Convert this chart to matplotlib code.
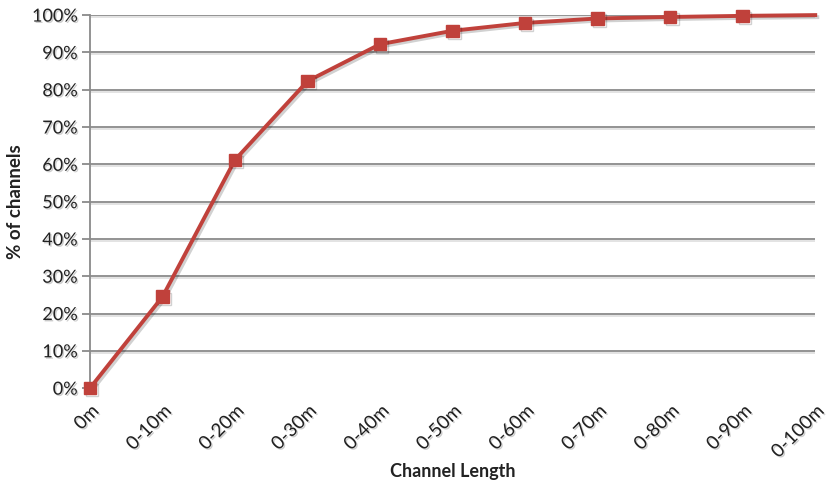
import numpy as np
import matplotlib.pyplot as plt
import matplotlib.patheffects as pe

categories = ["0m", "0-10m", "0-20m", "0-30m", "0-40m", "0-50m",
              "0-60m", "0-70m", "0-80m", "0-90m", "0-100m"]
pct_channels = [0.0, 24.5, 61.2, 82.3, 92.2, 95.8, 97.9, 99.1, 99.5, 99.8, 100.0]
y_ticks = list(range(0, 101, 10))

plt.rcParams['font.family'] = ['Lato', 'DejaVu Sans']

fig = plt.figure(figsize=(8.37, 4.87), dpi=100)
ax = fig.add_axes([0.1075, 0.203, 0.8665, 0.766])

text_shadow = [pe.withSimplePatchShadow(offset=(1, -1), alpha=0.2)]

x = np.arange(len(categories))
for t in y_ticks[1:]:
    ax.axhline(t, color='#8a8a8a', lw=1.3, zorder=1,
               path_effects=[pe.SimpleLineShadow(offset=(1, -1.5), alpha=0.12), pe.Normal()])

ax.plot(x, pct_channels, color='#c0413b', lw=2.8, marker='s', markersize=9,
        markevery=list(range(len(categories) - 1)), zorder=3, clip_on=False,
        path_effects=[pe.SimpleLineShadow(offset=(1.5, -1.5), alpha=0.18), pe.Normal()])

ax.set_xlim(0, len(categories) - 1)
ax.set_ylim(0, 100)
ax.set_yticks(y_ticks)
ax.set_yticklabels([f"{t}%" for t in y_ticks], fontsize=13, color='#222222')
ax.set_xticks(x)
ax.set_xticklabels(categories, rotation=45, ha='right', rotation_mode='anchor',
                   fontsize=13.5, color='#222222')
for lbl in ax.get_xticklabels() + ax.get_yticklabels():
    lbl.set_path_effects(text_shadow)

ax.tick_params(axis='y', length=6, width=1.3, color='#8a8a8a', pad=3)
ax.tick_params(axis='x', length=0, pad=10)
for side in ['top', 'right', 'bottom']:
    ax.spines[side].set_visible(False)
ax.spines['left'].set_color('#8a8a8a')
ax.spines['left'].set_linewidth(1.3)

ax.set_ylabel("% of channels", fontsize=13.5, fontweight='bold', color='#222222', labelpad=6)
ax.set_xlabel("Channel Length", fontsize=13, fontweight='bold', color='#222222', labelpad=2)

fig.savefig("out.png", dpi=100)
